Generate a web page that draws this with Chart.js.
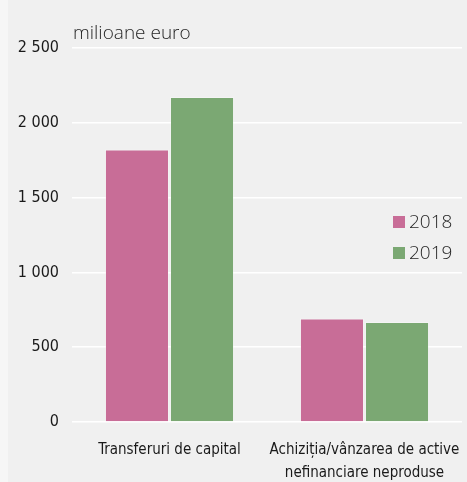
<!DOCTYPE html>
<html>
<head>
<meta charset="utf-8">
<script src="https://cdn.jsdelivr.net/npm/chart.js@4"></script>
<style>
  html, body { margin: 0; padding: 0; background: #f6f6f6; }
  #wrap { position: absolute; left: 8px; top: 0; width: 459px; height: 482px; background: #f0f0f0; }
  #wrap canvas { position: absolute; left: -8px; top: 0; }
</style>
</head>
<body>
<div id="wrap"><canvas id="grafic" width="467" height="482"></canvas></div>
<script>
// date (milioane euro)
var categorii = [["Transferuri de capital"], ["Achiziția/vânzarea de active", "nefinanciare neproduse"]];
var ani = ["2018", "2019"];
var valori2018 = [1822, 692];
var valori2019 = [2172, 668];
var culori = ["#c86d97", "#7ba873"];
var yTicks = [0, 500, 1000, 1500, 2000, 2500];

var fontIngust = '"DejaVu Sans Condensed", "Liberation Sans Narrow", "DejaVu Sans", sans-serif';
var fontLejer = '"Open Sans", "Noto Sans", sans-serif';

function formatNr(v) {
    return String(v).replace(/\B(?=(\d{3})+(?!\d))/g, " ");
}

// titlul axei si legenda, desenate peste grafic
var extra = {
    id: 'extra',
    afterDraw: function(chart) {
        var ctx = chart.ctx;
        var a = chart.chartArea;
        ctx.save();
        ctx.fillStyle = '#262626';
        ctx.font = '300 19px ' + fontLejer;
        ctx.textBaseline = 'middle';
        ctx.textAlign = 'left';
        ctx.fillText('milioane euro', a.left + 1, 34);
        for (var i = 0; i < ani.length; i++) {
            var y = 222 + i * 31;
            ctx.fillStyle = culori[i];
            ctx.fillRect(393, y - 6, 12, 12);
            ctx.fillStyle = '#262626';
            ctx.fillText(ani[i], 409, y + 1);
        }
        ctx.restore();
    }
};

new Chart(document.getElementById('grafic').getContext('2d'), {
    type: 'bar',
    data: {
        labels: categorii,
        datasets: [{
            label: ani[0],
            data: valori2018,
            backgroundColor: culori[0],
            borderColor: 'rgba(255,255,255,0.25)',
            borderWidth: 1
        }, {
            label: ani[1],
            data: valori2019,
            backgroundColor: culori[1],
            borderColor: 'rgba(255,255,255,0.25)',
            borderWidth: 1
        }]
    },
    options: {
        responsive: false,
        animation: false,
        devicePixelRatio: 1,
        layout: { padding: { top: 48, right: 5, left: 0, bottom: 0 } },
        datasets: { bar: { categoryPercentage: 0.667, barPercentage: 0.985 } },
        scales: {
            x: {
                grid: { display: false },
                border: { display: false },
                ticks: {
                    color: '#1a1a1a',
                    padding: 8,
                    maxRotation: 0,
                    autoSkip: false,
                    font: { family: fontIngust, style: 'condensed', size: 15, lineHeight: 1.55 }
                },
                afterFit: function(scale) {
                    scale.height = 60;
                    scale.paddingLeft = 0;
                    scale.paddingRight = 0;
                }
            },
            y: {
                min: 0,
                max: 2500,
                afterBuildTicks: function(scale) {
                    scale.ticks = yTicks.map(function(v) { return { value: v }; });
                },
                grid: { color: '#ffffff', lineWidth: 1.6, drawTicks: false },
                border: { display: false },
                ticks: {
                    color: '#1a1a1a',
                    padding: 13,
                    font: { family: fontIngust, style: 'condensed', size: 16 },
                    callback: function(v) { return formatNr(v); }
                },
                afterFit: function(scale) { scale.width = 72; }
            }
        },
        plugins: {
            legend: { display: false },
            tooltip: { enabled: false }
        }
    },
    plugins: [extra]
});
</script>
</body>
</html>
